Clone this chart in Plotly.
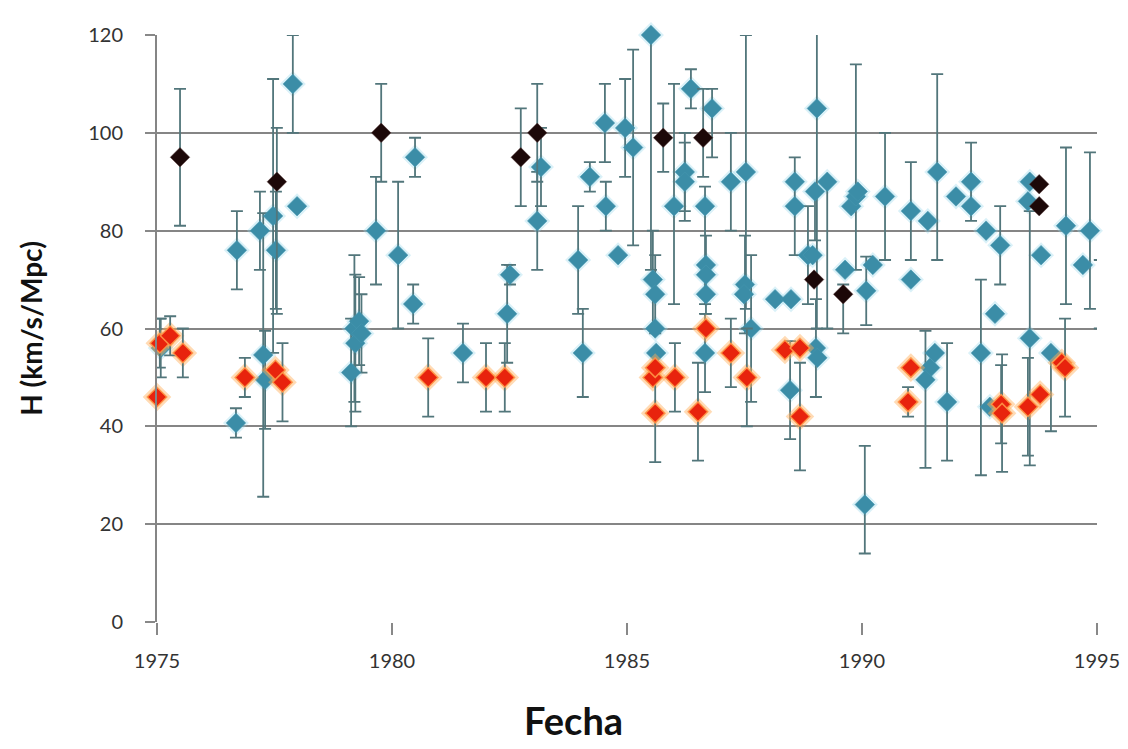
import plotly.graph_objects as go

# ---- Data ----
blue_x = [1974.85, 1975.08, 1976.68, 1976.70, 1977.19, 1977.26, 1977.30, 1977.47, 1977.53, 1977.98,
          1977.89, 1979.13, 1979.20, 1979.22, 1979.30, 1979.35, 1979.66, 1980.13, 1980.45, 1980.49,
          1981.51, 1982.45, 1982.51, 1983.09, 1983.17, 1983.96, 1984.06, 1984.21, 1984.53, 1984.55,
          1984.81, 1984.96, 1985.13, 1985.51, 1985.55, 1985.60, 1985.60, 1985.62, 1986.00, 1986.23,
          1986.23, 1986.36, 1986.66, 1986.68, 1986.68, 1986.68, 1986.66, 1986.81, 1987.21, 1987.53,
          1987.51, 1987.49, 1987.64, 1988.15, 1988.49, 1988.47, 1988.57, 1988.57, 1988.85, 1988.95,
          1989.02, 1989.05, 1989.04, 1989.00, 1989.26, 1989.64, 1989.77, 1989.87, 1989.91, 1990.06,
          1990.09, 1990.23, 1990.49, 1991.04, 1991.04, 1991.40, 1991.55, 1991.45, 1991.35, 1991.60,
          1991.81, 1992.00, 1992.32, 1992.32, 1992.53, 1992.64, 1992.72, 1992.83, 1992.94, 1993.53,
          1993.57, 1993.57, 1993.81, 1994.02, 1994.34, 1994.70, 1994.85, 1995.06]
blue_y = [60, 56, 40.7, 76, 80, 54.6, 49.5, 83, 76, 85,
          110, 51, 60, 57, 61.5, 59, 80, 75, 65, 95,
          55, 63, 71, 82, 93, 74, 55, 91, 102, 85,
          75, 101, 97, 120, 70, 67, 60, 55, 85, 92,
          90, 109, 85, 73, 71, 67, 55, 105, 90, 92,
          69, 67, 60, 66, 66, 47.4, 90, 85, 75, 75,
          56, 54, 105, 88, 90, 72, 85, 87, 88, 24,
          67.7, 73, 87, 84, 70, 82, 55, 52, 49.5, 92,
          45, 87, 90, 85, 55, 80, 44, 63, 77, 86,
          90, 58, 75, 55, 81, 73, 80, 67]
blue_ep = [15, 6, 3, 8, 8, 29, 10, 28, 12, 0,
           10, 11, 15, 14, 9, 8, 11, 15, 4, 4,
           6, 10, 2, 10, 8, 11, 9, 3, 8, 5,
           0, 10, 20, 0, 10, 8, 0, 0, 25, 8,
           8, 4, 4, 0, 8, 0, 8, 4, 10, 28,
           10, 0, 15, 0, 0, 10, 5, 0, 10, 0,
           10, 0, 20, 0, 0, 0, 0, 27, 0, 12,
           7, 0, 13, 10, 0, 0, 0, 0, 10, 20,
           12, 0, 8, 0, 15, 0, 0, 0, 8, 0,
           0, 26, 0, 0, 16, 0, 16, 7]
blue_em = [15, 6, 3, 8, 8, 29, 10, 28, 12, 0,
           10, 11, 15, 14, 9, 8, 11, 15, 4, 4,
           6, 10, 2, 10, 8, 11, 9, 3, 8, 5,
           0, 10, 20, 48, 10, 8, 0, 0, 20, 8,
           8, 4, 20, 0, 8, 0, 8, 10, 10, 28,
           10, 0, 15, 0, 0, 10, 5, 10, 10, 0,
           10, 0, 45, 10, 30, 0, 0, 15, 0, 10,
           7, 0, 13, 10, 0, 0, 0, 0, 18, 18,
           12, 0, 8, 0, 25, 0, 0, 0, 8, 0,
           0, 26, 0, 16, 16, 0, 16, 7]

red_x = [1975.00, 1975.06, 1975.28, 1975.55, 1976.87, 1977.52, 1977.67, 1980.77, 1982.00, 1982.40,
         1985.55, 1985.60, 1985.60, 1986.02, 1986.51, 1986.68, 1987.21, 1987.55, 1988.36, 1988.68,
         1988.68, 1990.98, 1991.04, 1992.96, 1992.98, 1993.53, 1993.79, 1994.25, 1994.32]
red_y = [46, 57, 58.5, 55, 50, 51.5, 49, 50, 50, 50,
         50, 52, 42.7, 50, 43, 60, 55, 50, 55.6, 56,
         42, 45, 52, 44.5, 42.7, 44, 46.5, 53, 52]
red_e = [0, 5, 4, 5, 4, 0, 8, 8, 7, 7,
         0, 0, 10, 7, 10, 0, 7, 10, 0, 0,
         11, 3, 0, 8, 12, 10, 0, 0, 10]

black_x = [1975.49, 1977.55, 1979.77, 1982.74, 1983.09, 1985.77, 1986.62, 1988.98, 1989.60, 1993.77, 1993.77]
black_y = [95, 90, 100, 95, 100, 99, 99, 70, 67, 89.5, 85]
black_ep = [14, 11, 10, 10, 10, 7, 10, 0, 2, 0, 0]
black_em = [14, 27, 10, 10, 10, 7, 8, 0, 8, 0, 0]

x_ticks = [1975, 1980, 1985, 1990, 1995]
y_ticks = [0, 20, 40, 60, 80, 100, 120]

ERR_COLOR = "#52767b"
FONT = "Lato, DejaVu Sans, sans-serif"


def err(plus, minus):
    return dict(type="data", symmetric=False, array=plus, arrayminus=minus,
                color=ERR_COLOR, thickness=1.8, width=6)


fig = go.Figure()
# soft halo behind blue markers
fig.add_trace(go.Scatter(
    x=blue_x, y=blue_y, mode="markers", cliponaxis=False, hoverinfo="skip",
    marker=dict(symbol="diamond", size=20, color="rgba(150,215,235,0.35)"),
    showlegend=False))
fig.add_trace(go.Scatter(
    x=blue_x, y=blue_y, mode="markers", cliponaxis=False,
    error_y=err(blue_ep, blue_em),
    marker=dict(symbol="diamond", size=15, color="#3b8da7",
                line=dict(color="rgba(70,150,175,0.6)", width=1)),
    showlegend=False))
# orange glow behind red markers
fig.add_trace(go.Scatter(
    x=red_x, y=red_y, mode="markers", cliponaxis=False, hoverinfo="skip",
    marker=dict(symbol="diamond", size=22, color="rgba(255,175,90,0.45)"),
    showlegend=False))
fig.add_trace(go.Scatter(
    x=red_x, y=red_y, mode="markers", cliponaxis=False,
    error_y=err(red_e, red_e),
    marker=dict(symbol="diamond", size=15, color="#e8230d",
                line=dict(color="rgba(255,150,70,0.9)", width=1.5)),
    showlegend=False))
fig.add_trace(go.Scatter(
    x=black_x, y=black_y, mode="markers", cliponaxis=False,
    error_y=err(black_ep, black_em),
    marker=dict(symbol="diamond", size=15, color="#1c0808",
                line=dict(color="rgba(90,60,60,0.5)", width=1)),
    showlegend=False))

fig.update_layout(
    width=1128, height=749,
    paper_bgcolor="white", plot_bgcolor="white",
    margin=dict(l=149, r=39, t=27, b=135),
    font=dict(family=FONT, color="#333333"),
    xaxis=dict(range=[1975, 1995], tickvals=x_ticks, ticktext=[str(v) for v in x_ticks],
               showgrid=False, zeroline=False, showline=False,
               ticks="outside", ticklen=12, tickwidth=1.5, tickcolor="#888888",
               tickfont=dict(size=20, color="#333333"), ticklabelstandoff=9),
    yaxis=dict(range=[0, 120], tickvals=y_ticks, ticktext=[str(v) for v in y_ticks],
               showgrid=True, gridcolor="#858585", gridwidth=2,
               zeroline=False, showline=True, linecolor="#858585", linewidth=2,
               ticks="outside", ticklen=10, tickwidth=1.5, tickcolor="#888888",
               tickfont=dict(size=20, color="#333333"), ticklabelstandoff=18,
               title=dict(text="<b>H (km/s/Mpc)</b>",
                          font=dict(size=28, color="#111111", family=FONT), standoff=37)),
    annotations=[dict(text="<b>Fecha</b>", xref="paper", yref="paper",
                      x=(565 - 149) / (1128 - 149 - 39), y=-(712 - 614) / (614 - 27),
                      xanchor="center", yanchor="middle", showarrow=False,
                      font=dict(size=38, color="#111111", family=FONT))],
)

fig.write_html("out.html")
